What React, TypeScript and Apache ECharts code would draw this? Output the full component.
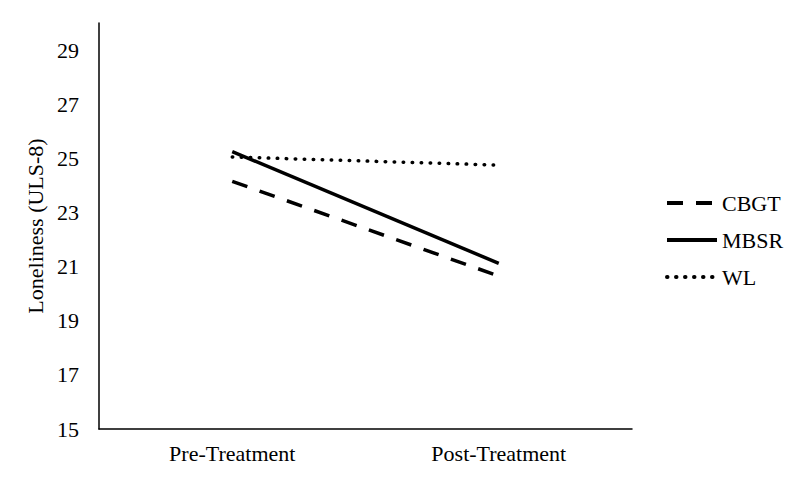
import React, { useEffect, useRef } from "react";
import * as echarts from "echarts";

const categories = ["Pre-Treatment", "Post-Treatment"];
const cbgt = [24.15, 20.65];
const mbsr = [25.25, 21.12];
const wl = [25.05, 24.75];
const yMin = 15;
const yMax = 30;
const yLabelStep = 2;

const FONT = "'Liberation Serif', 'Times New Roman', serif";

export default function App() {
  const ref = useRef<HTMLDivElement>(null);
  useEffect(() => {
    if (!ref.current) return;
    const chart = echarts.init(ref.current, null, { renderer: "svg" });
    chart.setOption({
      animation: false,
      backgroundColor: "#ffffff",
      grid: { left: 99, right: 168, top: 23, bottom: 50 },
      legend: {
        orient: "vertical",
        left: 660,
        top: 187,
        itemWidth: 50,
        itemHeight: 14,
        itemGap: 15,
        itemStyle: { color: "rgba(0,0,0,0)", borderWidth: 0, opacity: 0 },
        lineStyle: { width: 4 },
        textStyle: { fontFamily: FONT, fontSize: 22, color: "#000" },
        data: ["CBGT", "MBSR", "WL"],
      },
      xAxis: {
        type: "category",
        data: categories,
        boundaryGap: true,
        axisLine: { lineStyle: { color: "#000", width: 1.5 } },
        axisTick: { show: false },
        axisLabel: { fontFamily: FONT, fontSize: 22, color: "#000", margin: 13 },
      },
      yAxis: {
        type: "value",
        min: yMin,
        max: yMax,
        interval: 1,
        name: "Loneliness (ULS-8)",
        nameLocation: "middle",
        nameGap: 45,
        nameTextStyle: { fontFamily: FONT, fontSize: 22, color: "#000" },
        axisLine: { show: true, lineStyle: { color: "#000", width: 1.5 } },
        axisTick: { show: false },
        splitLine: { show: false },
        axisLabel: {
          fontFamily: FONT,
          fontSize: 22,
          color: "#000",
          margin: 20,
          formatter: (v: number) =>
            v < yMax && (v - yMin) % yLabelStep === 0 ? String(v) : "",
        },
      },
      series: [
        {
          name: "CBGT",
          type: "line",
          data: cbgt,
          symbol: "none",
          lineStyle: { color: "#000", width: 3.5, type: [16, 13] },
          itemStyle: { color: "#000" },
        },
        {
          name: "MBSR",
          type: "line",
          data: mbsr,
          symbol: "none",
          lineStyle: { color: "#000", width: 3.5 },
          itemStyle: { color: "#000" },
        },
        {
          name: "WL",
          type: "line",
          data: wl,
          symbol: "none",
          lineStyle: { color: "#000", width: 3.5, type: [0.5, 8.5], cap: "round" },
          itemStyle: { color: "#000" },
        },
      ],
    });
    return () => chart.dispose();
  }, []);
  return <div ref={ref} style={{ width: 800, height: 479, position: "fixed", left: 0, top: 0 }} />;
}
